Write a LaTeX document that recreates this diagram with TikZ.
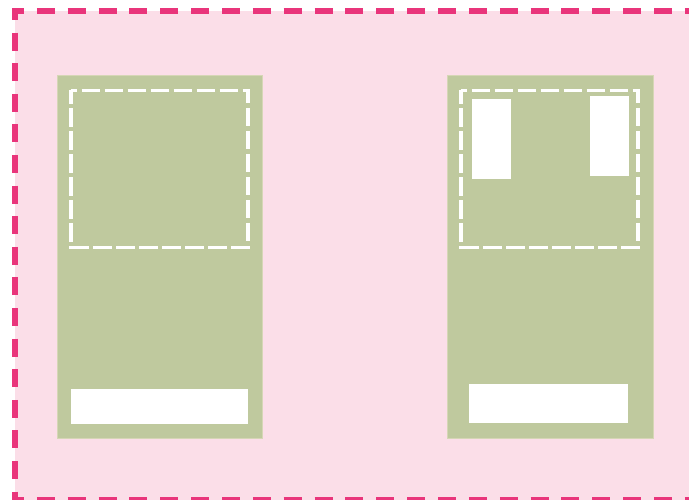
\documentclass[tikz,border=0pt]{standalone}
\definecolor{pinkbg}{HTML}{FBDEE8}
\definecolor{pinkline}{HTML}{E9357B}
\definecolor{cardgreen}{HTML}{BFC99E}
\definecolor{cardedge}{HTML}{D6D6B6}
\begin{document}
\begin{tikzpicture}[x=1pt,y=-1pt,
  box/.style={anchor=north west,inner sep=0pt,outer sep=0pt},
  card/.style={box,fill=cardgreen,draw=cardedge,line width=0.8pt},
  slot/.style={box,fill=white},
  ghost/.style={box},
  innerdash/.style={draw=white,line width=3.4pt,line cap=butt,line join=miter,
    dash pattern=on 18.5pt off 4.5pt,dash phase=12.5pt},
  borderh/.style={draw=pinkline,line width=6pt,line cap=butt,
    dash pattern=on 18pt off 12.86pt,dash phase=6pt},
  borderv/.style={draw=pinkline,line width=6pt,line cap=butt,
    dash pattern=on 18pt off 12.6pt,dash phase=9pt}]
\useasboundingbox (0,0) rectangle (689,500);
\fill[white] (0,0) rectangle (689,500);
% pink area
\node[box,fill=pinkbg,minimum width=690pt,minimum height=490pt] (area) at (15,11) {};
% dashed frame
\coordinate (tl) at (12,11);
\coordinate (tr) at (700,11);
\coordinate (lt) at (15,11);
\coordinate (lb) at (15,503);
\coordinate (bl) at (12,500);
\coordinate (br) at (700,500);
\draw[borderh] (tl) -- (tr);
\draw[borderv] (lt) -- (lb);
\draw[borderh] (bl) -- (br);
% cards
\node[card,minimum width=205.4pt,minimum height=363pt] (cardL) at (57.3,75.3) {};
\node[card,minimum width=206pt,minimum height=362.7pt] (cardR) at (447.3,75.3) {};
% dashed frames inside cards
\node[ghost,minimum width=177pt,minimum height=157pt] (dL) at (71,90.5) {};
\node[ghost,minimum width=177pt,minimum height=157pt] (dR) at (461,90.5) {};
\draw[innerdash] (dL.north west) -- (dL.north east) -- (dL.south east) -- (dL.south west) -- cycle;
\draw[innerdash] (dR.north west) -- (dR.north east) -- (dR.south east) -- (dR.south west) -- cycle;
% white slots
\node[slot,minimum width=39pt,minimum height=80pt] (sR1) at (472,99) {};
\node[slot,minimum width=39pt,minimum height=80pt] (sR2) at (590,96) {};
\node[slot,minimum width=177pt,minimum height=34.7pt] (barL) at (71,389) {};
\node[slot,minimum width=158.7pt,minimum height=38.7pt] (barR) at (469.3,384) {};
\end{tikzpicture}
\end{document}
